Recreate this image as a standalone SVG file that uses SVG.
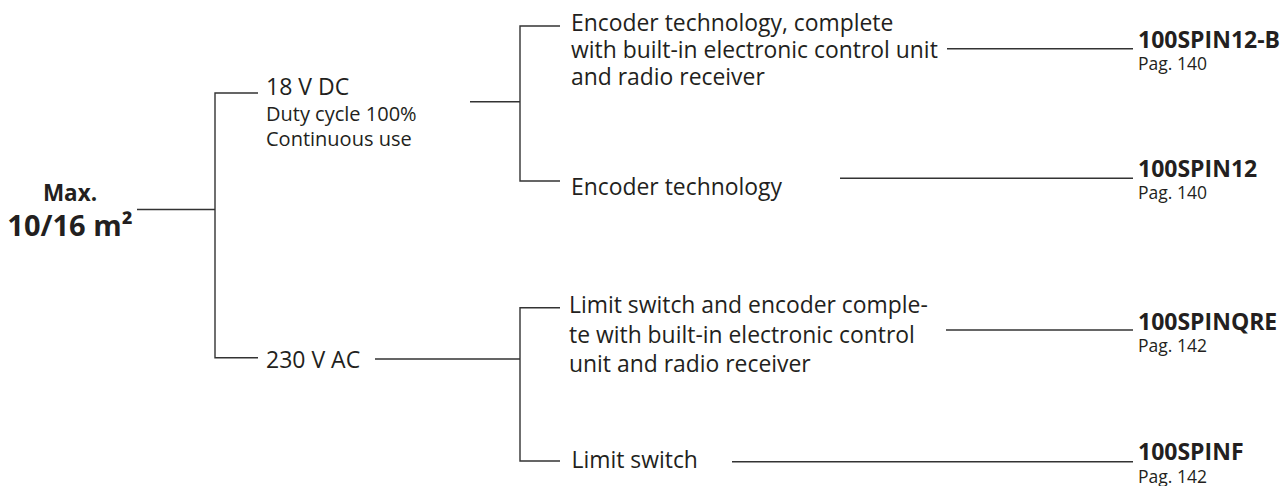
<svg xmlns="http://www.w3.org/2000/svg" width="1286" height="486" viewBox="0 0 1286 486">
<style>
text{font-family:"Open Sans","Noto Sans","Liberation Sans",sans-serif;fill:#231f20}
.m{font-size:22.9px}
.s{font-size:20px}
.b{font-size:23px;font-weight:bold}
.p{font-size:17.5px;font-weight:normal}
.c{fill:none;stroke:#333;stroke-width:1.4}
</style>
<rect width="1286" height="486" fill="#fff"/>
<g id="connectors">
<path class="c" d="M137 209.5H215M258 93H215V357.7H258"/>
<path class="c" d="M470 101.7H520M560 26H520V181H560"/>
<path class="c" d="M375 359H520M560 307.7H520V461H560"/>
<path class="c" d="M947 48.7H1133"/>
<path class="c" d="M840 178.3H1133"/>
<path class="c" d="M946 330H1133"/>
<path class="c" d="M732 461.7H1133"/>
</g>
<g id="root">
<text text-anchor="middle" style="font-weight:bold"><tspan x="70" y="200.7" style="font-size:22.5px">Max.</tspan><tspan x="70" y="236" style="font-size:29px">10/16 m²</tspan></text>
</g>
<g id="dc">
<text x="266" y="95" style="font-size:23px">18 V DC</text>
<text class="s"><tspan x="266" y="121">Duty cycle 100%</tspan><tspan x="266" y="145.7">Continuous use</tspan></text>
</g>
<g id="ac">
<text x="266" y="368.3" style="font-size:23px">230 V AC</text>
</g>
<g id="enc-full">
<text class="m"><tspan x="571" y="31">Encoder technology, complete</tspan><tspan x="571" y="57.5">with built-in electronic control unit</tspan><tspan x="571" y="85">and radio receiver</tspan></text>
</g>
<g id="enc">
<text x="571" y="195" class="m">Encoder technology</text>
</g>
<g id="lim-full">
<text class="m"><tspan x="569" y="313.3">Limit switch and encoder comple-</tspan><tspan x="569" y="342.7">te with built-in electronic control</tspan><tspan x="569" y="371.7">unit and radio receiver</tspan></text>
</g>
<g id="lim">
<text x="571.5" y="468.3" class="m">Limit switch</text>
</g>
<g id="p1">
<text class="b"><tspan x="1138" y="48.3">100SPIN12-B</tspan><tspan x="1138" y="70" class="p">Pag. 140</tspan></text>
</g>
<g id="p2">
<text class="b"><tspan x="1138" y="176.7">100SPIN12</tspan><tspan x="1138" y="199" class="p">Pag. 140</tspan></text>
</g>
<g id="p3">
<text class="b"><tspan x="1138" y="330">100SPINQRE</tspan><tspan x="1138" y="351.7" class="p">Pag. 142</tspan></text>
</g>
<g id="p4">
<text class="b"><tspan x="1138" y="460">100SPINF</tspan><tspan x="1138" y="482.7" class="p">Pag. 142</tspan></text>
</g>
</svg>
